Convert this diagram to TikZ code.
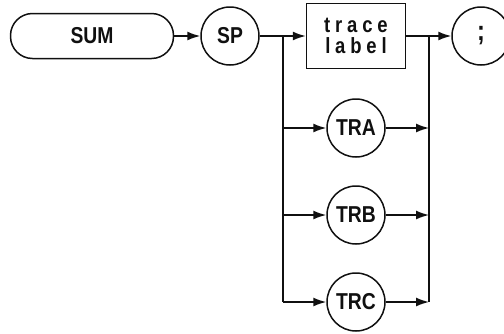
\documentclass[tikz,border=0pt]{standalone}
\usepackage{fontspec}
\setmainfont{Liberation Sans}[FakeStretch=0.84]
\usetikzlibrary{arrows.meta}
\definecolor{ink}{HTML}{101010}

\begin{document}
\begin{tikzpicture}[x=1pt,y=-1pt,>={Latex[length=13pt,width=9pt]},
      keyword/.style={draw=ink,text=ink,line width=1.5pt,rounded corners=22pt,minimum width=163pt,
                    minimum height=45pt,font=\fontsize{23}{26}\selectfont\bfseries},
      token/.style={draw=ink,text=ink,circle,line width=1.5pt,minimum size=58pt,inner sep=0pt,
                    font=\fontsize{23}{26}\selectfont\bfseries},
      param/.style={draw=ink,text=ink,line width=1.5pt,minimum width=99pt,minimum height=65pt,
                    align=center,inner sep=0pt,
                    font=\fontsize{22}{21}\selectfont\bfseries\addfontfeature{LetterSpace=22}},
      flow/.style={->,line width=1.5pt,draw=ink},
      rail/.style={line width=1.5pt,draw=ink}]
    \useasboundingbox (0,0) rectangle (504,333);
    \node[keyword] (sum) at (92,36) {SUM};
    \node[token] (sp) at (230,36) {SP};
    \node[param] (trace) at (356,36) {trace\\label};
    \node[token,font=\fontsize{28}{30}\selectfont\bfseries] (semi) at (481,36) {;};
    \node[token] (tra) at (356,128) {TRA};
    \node[token] (trb) at (356,215) {TRB};
    \node[token] (trc) at (356,302) {TRC};
    \coordinate (split) at (283,36);
    \coordinate (join) at (429,36);
    \draw[flow] (sum) -- (sp);
    \draw[rail] (sp) -- (split);
    \draw[flow] (split) -- (trace);
    \draw[flow] (trace) -- (semi);
    \draw[rail] (split) -- (split |- trc);
    \draw[rail] (join) -- (join |- trc);
    \foreach \n in {tra,trb,trc}{
      \draw[flow] (split |- \n) -- (\n);
      \draw[flow] (\n) -- (join |- \n);
    }
    \end{tikzpicture}
\end{document}
